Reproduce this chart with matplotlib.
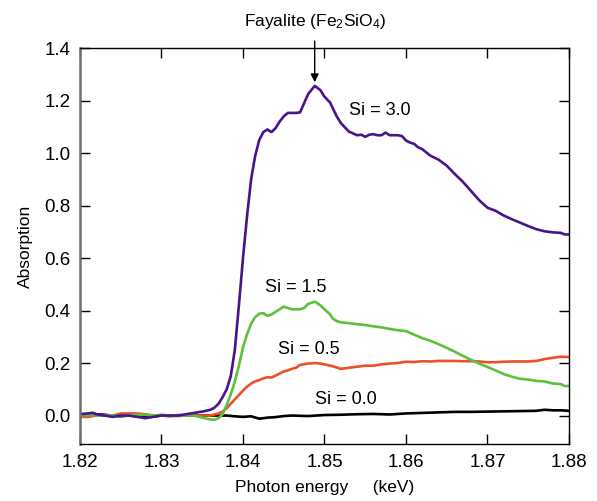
import matplotlib.pyplot as plt

plt.rcParams['font.family'] = ['Liberation Sans', 'DejaVu Sans']
plt.rcParams['mathtext.fontset'] = 'custom'
plt.rcParams['mathtext.rm'] = 'Liberation Sans'
plt.rcParams['mathtext.it'] = 'Liberation Sans:italic'

# Si = 3.0 (purple)
e_si30 = [1.820, 1.821, 1.8215, 1.822, 1.823, 1.824, 1.825, 1.826, 1.827, 1.828, 1.829, 1.830,
          1.831, 1.832, 1.833, 1.834, 1.835, 1.836, 1.8365, 1.837, 1.8375, 1.838, 1.8385, 1.839,
          1.8395, 1.840, 1.8405, 1.841, 1.8415, 1.842, 1.8425, 1.843, 1.8435, 1.844, 1.8445, 1.845,
          1.8455, 1.846, 1.8465, 1.847, 1.8475, 1.848, 1.8488, 1.8495, 1.850, 1.8507, 1.851, 1.8515,
          1.852, 1.8525, 1.853, 1.8535, 1.854, 1.8545, 1.855, 1.8555, 1.856, 1.8565, 1.857, 1.8575,
          1.858, 1.859, 1.8595, 1.860, 1.8605, 1.861, 1.8615, 1.862, 1.863, 1.864, 1.865, 1.866,
          1.867, 1.868, 1.869, 1.870, 1.871, 1.872, 1.873, 1.874, 1.875, 1.876, 1.877, 1.878,
          1.879, 1.8795, 1.880]
a_si30 = [0.005, 0.008, 0.010, 0.005, 0.000, -0.005, 0.000, 0.000, -0.005, -0.010, -0.005, 0.000,
          0.000, 0.000, 0.005, 0.010, 0.015, 0.022, 0.030, 0.045, 0.070, 0.100, 0.150, 0.250,
          0.420, 0.600, 0.760, 0.900, 0.990, 1.050, 1.080, 1.090, 1.080, 1.095, 1.120, 1.140,
          1.153, 1.153, 1.153, 1.155, 1.190, 1.225, 1.256, 1.240, 1.215, 1.192, 1.172, 1.140,
          1.115, 1.098, 1.082, 1.075, 1.068, 1.070, 1.062, 1.070, 1.072, 1.068, 1.068, 1.078,
          1.068, 1.068, 1.065, 1.048, 1.040, 1.035, 1.022, 1.015, 0.990, 0.975, 0.952, 0.920,
          0.890, 0.855, 0.820, 0.792, 0.780, 0.762, 0.748, 0.735, 0.722, 0.710, 0.702, 0.698,
          0.696, 0.690, 0.690]

# Si = 1.5 (green)
e_si15 = [1.820, 1.821, 1.822, 1.823, 1.824, 1.825, 1.826, 1.827, 1.828, 1.829, 1.830, 1.831,
          1.832, 1.833, 1.834, 1.835, 1.836, 1.8365, 1.837, 1.8375, 1.838, 1.8385, 1.839, 1.8395,
          1.840, 1.8405, 1.841, 1.8415, 1.842, 1.8425, 1.843, 1.8435, 1.844, 1.8445, 1.845, 1.8455,
          1.846, 1.847, 1.8475, 1.848, 1.8488, 1.8495, 1.850, 1.8507, 1.851, 1.8515, 1.852, 1.853,
          1.854, 1.855, 1.856, 1.857, 1.858, 1.859, 1.860, 1.861, 1.862, 1.863, 1.864, 1.865,
          1.866, 1.867, 1.868, 1.869, 1.870, 1.871, 1.872, 1.873, 1.874, 1.875, 1.876, 1.877,
          1.878, 1.879, 1.8795, 1.880]
a_si15 = [0.000, 0.002, 0.000, 0.000, 0.000, -0.002, 0.000, 0.003, 0.003, 0.000, 0.003, 0.000,
          0.002, 0.000, 0.000, -0.008, -0.015, -0.016, -0.010, 0.005, 0.040, 0.080, 0.130, 0.190,
          0.260, 0.310, 0.350, 0.375, 0.388, 0.390, 0.380, 0.385, 0.395, 0.405, 0.415, 0.410,
          0.405, 0.405, 0.410, 0.425, 0.434, 0.420, 0.405, 0.385, 0.370, 0.360, 0.355, 0.352,
          0.348, 0.345, 0.340, 0.336, 0.330, 0.325, 0.322, 0.308, 0.295, 0.285, 0.272, 0.258,
          0.243, 0.227, 0.212, 0.198, 0.185, 0.172, 0.158, 0.148, 0.140, 0.137, 0.132, 0.130,
          0.122, 0.120, 0.112, 0.113]

# Si = 0.5 (orange)
e_si05 = [1.820, 1.821, 1.822, 1.823, 1.824, 1.825, 1.826, 1.827, 1.828, 1.829, 1.830, 1.831,
          1.832, 1.833, 1.834, 1.835, 1.836, 1.837, 1.8375, 1.838, 1.8385, 1.839, 1.8395, 1.840,
          1.8405, 1.841, 1.8415, 1.842, 1.8425, 1.843, 1.8435, 1.844, 1.8445, 1.845, 1.8455, 1.846,
          1.8465, 1.847, 1.848, 1.8488, 1.8495, 1.850, 1.851, 1.852, 1.853, 1.854, 1.855, 1.856,
          1.857, 1.858, 1.859, 1.860, 1.861, 1.862, 1.863, 1.864, 1.865, 1.866, 1.867, 1.868,
          1.869, 1.870, 1.871, 1.872, 1.873, 1.874, 1.875, 1.876, 1.877, 1.878, 1.879, 1.880]
a_si05 = [-0.005, -0.005, 0.000, 0.000, 0.000, 0.008, 0.008, 0.008, 0.005, 0.000, 0.000, 0.000,
          -0.002, 0.000, 0.000, 0.000, 0.000, 0.008, 0.015, 0.028, 0.045, 0.062, 0.078, 0.095,
          0.110, 0.122, 0.130, 0.135, 0.142, 0.146, 0.145, 0.152, 0.160, 0.168, 0.172, 0.178,
          0.182, 0.193, 0.198, 0.200, 0.198, 0.195, 0.188, 0.178, 0.182, 0.186, 0.190, 0.190,
          0.195, 0.198, 0.200, 0.205, 0.204, 0.207, 0.206, 0.208, 0.208, 0.208, 0.207, 0.207,
          0.206, 0.203, 0.203, 0.205, 0.206, 0.206, 0.206, 0.208, 0.215, 0.220, 0.224, 0.223]

# Si = 0.0 (black)
e_si00 = [1.820, 1.821, 1.8215, 1.822, 1.823, 1.824, 1.825, 1.826, 1.827, 1.828, 1.829, 1.830,
          1.831, 1.832, 1.833, 1.834, 1.835, 1.836, 1.837, 1.838, 1.839, 1.840, 1.841, 1.842,
          1.843, 1.844, 1.845, 1.846, 1.848, 1.850, 1.852, 1.854, 1.856, 1.858, 1.860, 1.862,
          1.864, 1.866, 1.868, 1.870, 1.872, 1.874, 1.876, 1.877, 1.878, 1.879, 1.880]
a_si00 = [0.005, 0.005, 0.010, 0.005, 0.003, 0.000, -0.003, 0.000, -0.002, -0.005, -0.003, 0.000,
          -0.002, 0.000, 0.000, 0.000, 0.000, 0.000, 0.000, 0.000, -0.003, -0.005, -0.003, -0.012,
          -0.008, -0.006, -0.002, 0.000, -0.002, 0.002, 0.003, 0.005, 0.006, 0.004, 0.008, 0.010,
          0.012, 0.014, 0.014, 0.015, 0.016, 0.017, 0.018, 0.022, 0.020, 0.020, 0.018]

x_ticks = [1.82, 1.83, 1.84, 1.85, 1.86, 1.87, 1.88]
y_ticks = [0.0, 0.2, 0.4, 0.6, 0.8, 1.0, 1.2, 1.4]

fig = plt.figure(figsize=(5.97, 5.01), dpi=100)
ax = fig.add_axes([0.134, 0.114, 0.819, 0.790])

lw = 1.9
ax.plot(e_si00, a_si00, color='black', lw=lw)
ax.plot(e_si05, a_si05, color='#ee4f27', lw=lw)
ax.plot(e_si15, a_si15, color='#5cc13a', lw=lw)
ax.plot(e_si30, a_si30, color='#48148c', lw=lw)

ax.set_xlim(1.82, 1.88)
ax.set_ylim(-0.108, 1.4)
ax.set_xticks(x_ticks)
ax.set_xticklabels([f'{v:.2f}' for v in x_ticks])
ax.set_yticks(y_ticks)
ax.set_yticklabels([f'{v:.1f}' for v in y_ticks])
ax.tick_params(direction='in', length=7, width=1, labelsize=13.5, pad=7,
               top=True, right=True)

for s in ['top', 'right', 'bottom']:
    ax.spines[s].set_linewidth(1)
    ax.spines[s].set_color('black')
ax.spines['left'].set_color('#707070')
ax.spines['left'].set_linewidth(1.8)

ax.set_xlabel('Photon energy     (keV)', fontsize=12.5, labelpad=7)
ax.set_ylabel('Absorption', fontsize=12.5, labelpad=8)

ax.annotate('Fayalite (Fe$_2$SiO$_4$)', xy=(1.8488, 1.27), xytext=(1.8488, 1.50),
            textcoords='data', ha='center', va='center', fontsize=12.5,
            annotation_clip=False,
            arrowprops=dict(arrowstyle='-|>', color='black', lw=1, shrinkA=5, shrinkB=0,
                            mutation_scale=12))

ax.text(1.853, 1.163, 'Si = 3.0', fontsize=13, va='center')
ax.text(1.8427, 0.486, 'Si = 1.5', fontsize=13, va='center')
ax.text(1.8443, 0.25, 'Si = 0.5', fontsize=13, va='center')
ax.text(1.8488, 0.06, 'Si = 0.0', fontsize=13, va='center')

fig.savefig('out.png', dpi=100)
